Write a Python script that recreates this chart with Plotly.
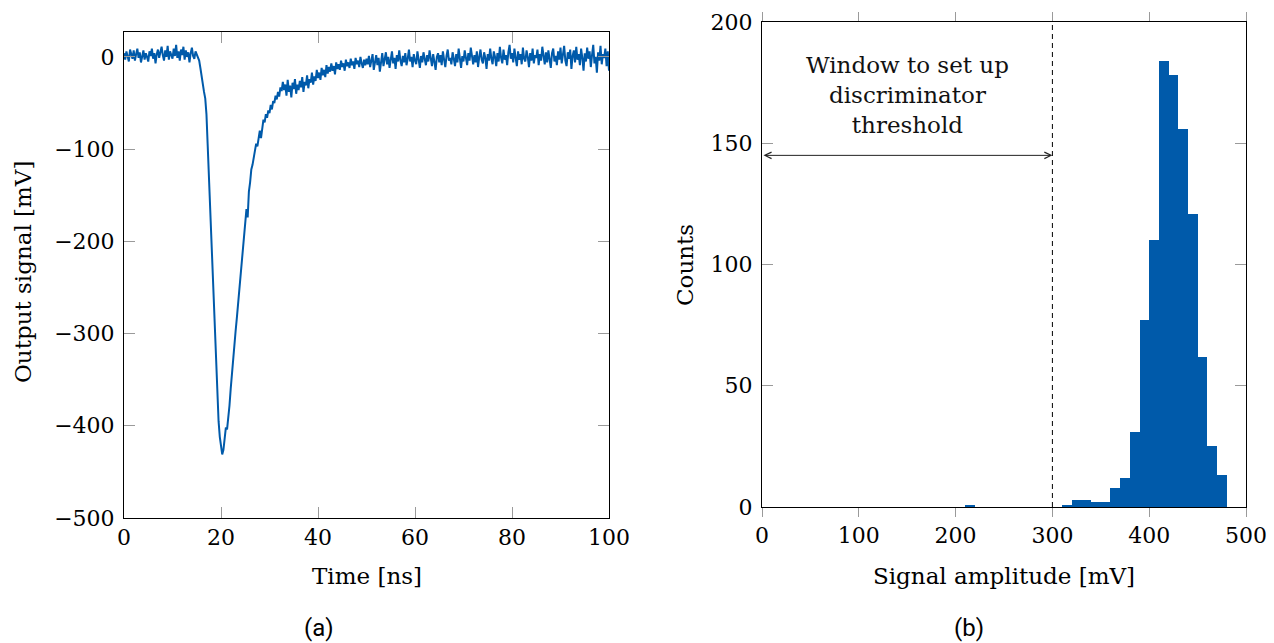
import plotly.graph_objects as go

# ---------------- data ----------------
# (a) oscilloscope trace, sampled every 0.25 ns from 0 ns
sample_step_ns = 0.25
signal_mv = [
    # 0.0 - 15.0 ns
    4, -3, 6, 1, -5, 8, 2, -2, 7, -4,
    3, 9, -1, 5, -6, 2, 7, -3, 4, 0,
    -5, 6, 1, 9, -2, 4, -7, 3, 8, -1,
    5, 11, 2, -4, 7, 0, 12, -3, 6, 3,
    -2, 9, 1, 13, -1, 6, -4, 8, 2, 11,
    -3, 7, 0, 5, -6, 4, 10, 1, -2, 6,
    3,
    # 15.25 - 50.0 ns
    1, -4, -12, -22, -33, -38, -45, -62, -95, -130,
    -165, -205, -242, -276, -312, -345, -372, -395, -412, -424,
    -431, -426, -414, -402, -404, -393, -378, -360, -342, -331,
    -314, -298, -284, -268, -255, -246, -228, -210, -194, -182,
    -165, -174, -146, -136, -122, -117, -108, -100, -94, -97,
    -86, -80, -88, -74, -68, -71, -62, -66, -58, -61,
    -52, -57, -48, -50, -42, -46, -38, -43, -33, -37,
    -27, -36, -30, -42, -25, -38, -31, -44, -28, -35,
    -24, -40, -30, -36, -26, -33, -22, -38, -27, -31,
    -20, -34, -24, -28, -17, -30, -21, -26, -14, -23,
    -17, -25, -12, -20, -14, -22, -9, -18, -11, -16,
    -7, -15, -10, -19, -6, -13, -8, -14, -4, -11,
    -7, -15, -3, -10, -6, -12, -2, -9, -5, -13,
    -1, -8, -4, -11, 0, -7, -12, -3, -9, -2,
    # 50.25 - 100.0 ns
    -8, 1, -11, -4, 3, -14, -6, 2, -9, -1,
    -16, -5, 4, -10, -2, 5, -8, 0, -12, -3,
    6, -7, -1, -13, 2, -5, 7, -4, -10, 1,
    -6, 4, -9, -2, 8, -5, 0, -11, 3, -4,
    -8, 6, -2, -12, 1, -6, 5, -3, -9, 2,
    -5, 7, -1, -10, 3, -7, -14, 0, 4, -6,
    2, -9, 6, -3, -11, 1, 8, -4, -1, -8,
    5, -2, -10, 3, -6, 9, -3, -12, 1, -5,
    7, -1, -9, 4, -4, 10, -2, -8, 2, -6,
    6, -11, 0, 8, -3, -7, 5, -1, -13, 3,
    -4, 9, -2, -8, 6, 0, -10, 4, -5, 11,
    -1, -7, 8, -3, 2, -9, 5, 13, -2, 4,
    -6, 9, -1, -10, 6, -3, 3, -8, 10, -2,
    -5, 7, 0, -11, 4, -4, 9, -7, 2, -1,
    8, -9, 3, -4, 11, -2, -8, 5, -6, 7,
    -1, -12, 4, 9, -5, 1, -9, 6, -3, 10,
    -7, 2, 12, -4, -10, 5, -2, 8, -13, 1,
    7, -6, 11, -3, 3, -9, 9, -1, -15, 4,
    -5, 10, -2, 6, -11, 2, 13, -7, 0, -17,
    5, -4, 12, -8, 3, -1, 9, -10, 6, -15,
]
time_ns = [i * sample_step_ns for i in range(len(signal_mv))]

# (b) histogram of signal amplitudes (10 mV bins, left edges)
bin_width_mv = 10
bin_left_mv = [210, 310, 320, 330, 340, 350, 360, 370, 380, 390,
               400, 410, 420, 430, 440, 450, 460, 470]
bin_counts = [1, 1, 3, 3, 2, 2, 8, 12, 31, 77,
              110, 184, 178, 156, 121, 62, 25, 13]

threshold_mv = 300
window_arrow_counts = 145
window_label = "Window to set up<br>discriminator<br>threshold"

time_ticks = [0, 20, 40, 60, 80, 100]
signal_ticks = [-500, -400, -300, -200, -100, 0]
amp_ticks = [0, 100, 200, 300, 400, 500]
count_ticks = [0, 50, 100, 150, 200]

# ---------------- style ----------------
BLUE = "rgb(0,90,170)"
SERIF = "DejaVu Serif"
TICKCOL = "#9a9a9a"
W, H = 1274, 643
tickfont = dict(family=SERIF, size=22, color="black")
titlefont = dict(family=SERIF, size=23, color="black")

fig = go.Figure()
fig.add_trace(go.Scatter(x=time_ns, y=signal_mv, mode="lines",
                         line=dict(color=BLUE, width=2),
                         xaxis="x", yaxis="y", showlegend=False))
fig.add_trace(go.Bar(x=[b + bin_width_mv / 2 for b in bin_left_mv], y=bin_counts,
                     width=bin_width_mv, marker=dict(color=BLUE, line=dict(width=0)),
                     xaxis="x2", yaxis="y2", showlegend=False))

common = dict(showgrid=False, zeroline=False, showline=True, linecolor="black",
              linewidth=1, mirror="allticks", tickcolor=TICKCOL, tickwidth=1,
              tickfont=tickfont, automargin=False)

L_X0, L_X1, L_Y0, L_Y1 = 124, 609, 32, 518     # left panel box (px)
R_X0, R_X1, R_Y0, R_Y1 = 762, 1246, 22, 507    # right panel box (px)

fig.update_layout(
    width=W, height=H, margin=dict(l=0, r=0, t=0, b=0, autoexpand=False),
    paper_bgcolor="white", plot_bgcolor="white",
    xaxis=dict(domain=[L_X0 / W, L_X1 / W], range=[0, 100], anchor="y",
               tickvals=time_ticks, ticks="inside", ticklen=11, **common),
    yaxis=dict(domain=[1 - L_Y1 / H, 1 - L_Y0 / H], range=[-500, 27], anchor="x",
               tickvals=signal_ticks, ticks="inside", ticklen=11,
               ticklabelstandoff=4, **common),
    xaxis2=dict(domain=[R_X0 / W, R_X1 / W], range=[0, 500], anchor="y2",
                tickvals=amp_ticks, ticks="outside", ticklen=9, **common),
    yaxis2=dict(domain=[1 - R_Y1 / H, 1 - R_Y0 / H], range=[0, 200], anchor="x2",
                tickvals=count_ticks, ticks="inside", ticklen=11,
                ticklabelstandoff=4, **common),
    bargap=0,
)

# axis titles (placed as paper annotations)
def paper_text(text, px, py, angle=0, font=titlefont):
    fig.add_annotation(x=px / W, y=1 - py / H, xref="paper", yref="paper", text=text,
                       showarrow=False, textangle=angle, font=font,
                       xanchor="center", yanchor="middle")

paper_text("Time [ns]", (L_X0 + L_X1) / 2, 576)
paper_text("Output signal [mV]", 23, 272, angle=-90)
paper_text("Signal amplitude [mV]", (R_X0 + R_X1) / 2, 576)
paper_text("Counts", 685, 265, angle=-90)

# threshold dashed line
fig.add_shape(type="line", xref="x2", yref="y2", x0=threshold_mv, x1=threshold_mv,
              y0=count_ticks[0], y1=count_ticks[-1],
              line=dict(color="black", width=1, dash="5px,4px"))

# double arrow for the window
fig.add_annotation(x=threshold_mv, y=window_arrow_counts, ax=amp_ticks[0], ay=window_arrow_counts,
                   xref="x2", yref="y2", axref="x2", ayref="y2", text="",
                   showarrow=True, arrowhead=5, startarrowhead=5, arrowside="end+start",
                   arrowsize=1.3, startarrowsize=1.3, arrowwidth=1, arrowcolor="#222",
                   standoff=0, startstandoff=0)
fig.add_annotation(x=150, y=170, xref="x2", yref="y2", text=window_label,
                   showarrow=False, font=dict(family=SERIF, size=23, color="#111"),
                   align="center")

# sub-figure labels
labfont = dict(family="Roboto", size=24, color="black")
paper_text("(a)", 319, 628, font=labfont)
paper_text("(b)", 969, 628, font=labfont)

fig.write_html("out.html")
